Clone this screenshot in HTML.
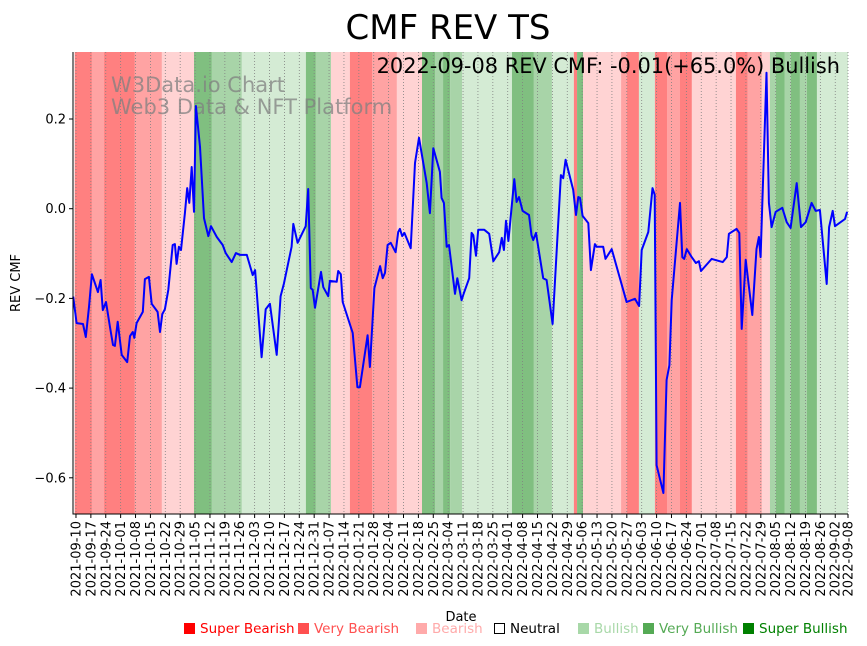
<!DOCTYPE html>
<html><head><meta charset="utf-8"><style>
html,body{margin:0;padding:0;background:#fff;}
svg{display:block;font-family:"DejaVu Sans","Liberation Sans",sans-serif;}
</style></head><body>
<svg id="chart" width="867" height="646" viewBox="0 0 867 646" xmlns="http://www.w3.org/2000/svg">
<g id="bands"></g>
<g id="grid"></g>
<text x="111" y="92" font-size="21" fill="#808080" fill-opacity="0.75">W3Data.io Chart</text>
<text x="111" y="114" font-size="21" fill="#808080" fill-opacity="0.75">Web3 Data &amp; NFT Platform</text>
<g id="series"></g>
<g id="axes"></g>
<text x="448" y="39" font-size="34" text-anchor="middle" fill="#000">CMF REV TS</text>
<text x="840" y="73" font-size="20.9" text-anchor="end" fill="#000">2022-09-08 REV CMF: -0.01(+65.0%) Bullish</text>
<text x="20" y="283" font-size="13" text-anchor="middle" transform="rotate(-90 20 283)">REV CMF</text>
<text x="461" y="621" font-size="13" text-anchor="middle">Date</text>
<g id="legend" font-size="13.5"></g>
</svg>
<script>
// ---- data ----
const days = [-1.3,0.3,3.3,4.6,6.1,7.5,10.3,11.6,12.6,14.1,16.0,17.4,18.3,19.6,21.5,24.1,25.4,26.7,27.4,28.5,31.4,32.4,34.3,35.6,38.4,39.5,40.6,41.8,43.4,45.5,46.5,47.3,48.4,49.4,51.2,52.3,53.3,54.4,55.5,56.4,58.3,60.2,62.2,63.5,66.2,69.0,70.4,73.2,75.2,77.1,80.3,83.1,84.2,87.3,89.2,91.2,94.4,96.2,97.8,101.4,102.2,104.2,108.0,109.2,110.4,111.3,112.4,115.2,116.3,118.6,119.4,122.6,123.3,124.5,125.4,130.1,132.3,133.5,137.1,138.2,140.3,143.0,144.2,145.3,146.5,148.0,150.3,151.5,152.3,153.4,154.4,157.4,159.4,161.3,164.9,166.4,168.0,171.1,171.9,173.0,174.3,175.4,178.2,179.3,181.3,182.4,184.9,186.0,186.8,188.1,189.1,192.0,194.3,196.2,199.0,200.2,201.2,202.2,203.3,206.1,207.2,208.3,210.0,213.0,214.2,215.0,216.3,219.7,221.3,224.1,228.0,229.1,230.2,233.8,235.1,236.2,237.0,238.2,240.9,242.1,244.0,244.8,247.9,249.0,251.9,258.9,262.8,264.8,266.0,269.1,271.1,272.1,273.0,276.2,277.7,279.0,280.1,284.0,285.1,286.0,287.2,289.5,291.5,292.9,293.9,298.9,304.1,306.0,307.0,310.6,311.9,313.0,314.9,318.0,320.0,321.1,321.9,324.7,325.8,327.1,329.0,332.1,334.2,336.0,338.9,340.9,343.1,345.9,347.8,349.8,353.0,354.1,355.8,356.9,361.6,362.6];
const cmfValues = [-0.196,-0.255,-0.257,-0.286,-0.219,-0.146,-0.186,-0.159,-0.226,-0.208,-0.264,-0.304,-0.306,-0.252,-0.326,-0.342,-0.284,-0.275,-0.288,-0.255,-0.230,-0.157,-0.152,-0.212,-0.230,-0.275,-0.235,-0.224,-0.181,-0.081,-0.079,-0.123,-0.085,-0.092,-0.010,0.046,0.013,0.093,-0.007,0.229,0.138,-0.021,-0.061,-0.039,-0.063,-0.081,-0.099,-0.119,-0.099,-0.103,-0.103,-0.148,-0.137,-0.331,-0.224,-0.212,-0.326,-0.195,-0.166,-0.085,-0.034,-0.076,-0.039,0.044,-0.177,-0.181,-0.221,-0.141,-0.175,-0.195,-0.161,-0.163,-0.139,-0.146,-0.208,-0.277,-0.398,-0.398,-0.282,-0.353,-0.177,-0.128,-0.155,-0.143,-0.081,-0.076,-0.097,-0.052,-0.045,-0.061,-0.054,-0.088,0.102,0.158,0.057,-0.010,0.135,0.082,0.024,0.013,-0.085,-0.081,-0.190,-0.155,-0.204,-0.188,-0.155,-0.054,-0.059,-0.105,-0.047,-0.047,-0.056,-0.117,-0.097,-0.065,-0.092,-0.027,-0.072,0.066,0.015,0.026,-0.005,-0.014,-0.059,-0.070,-0.054,-0.155,-0.159,-0.257,0.075,0.068,0.109,0.042,-0.014,0.026,0.024,-0.016,-0.032,-0.137,-0.079,-0.085,-0.085,-0.112,-0.090,-0.208,-0.201,-0.217,-0.092,-0.052,0.046,0.031,-0.572,-0.634,-0.382,-0.349,-0.204,0.013,-0.108,-0.112,-0.090,-0.108,-0.121,-0.117,-0.139,-0.112,-0.119,-0.108,-0.056,-0.045,-0.054,-0.268,-0.114,-0.237,-0.090,-0.063,-0.108,0.303,0.013,-0.041,-0.007,0.002,-0.030,-0.043,0.057,-0.041,-0.030,0.013,-0.005,-0.003,-0.168,-0.041,-0.005,-0.039,-0.023,-0.007];
const bandEnds = [7.5,13.2,27.7,40.4,55.5,63.9,78.0,108.1,112.8,119.9,128.8,139.2,150.9,162.7,168.8,172.6,175.9,181.5,205.0,215.3,223.8,234.1,235.6,238.4,256.3,259.1,264.7,272.2,277.9,284.0,289.6,310.3,315.9,322.5,326.3,329.1,333.3,336.2,340.4,343.7,348.4,363];
const bandLevels = [-3,-2,-3,-2,-1,3,2,1,3,2,-1,-3,-2,-1,3,2,3,2,1,3,2,1,-3,3,-1,-2,-3,1,-3,-2,-3,-1,-3,-2,-1,2,3,2,3,2,3,1];
const yTicks = [0.2,0.0,-0.2,-0.4,-0.6];
const tickLabels = ["2021-09-10","2021-09-17","2021-09-24","2021-10-01","2021-10-08","2021-10-15","2021-10-22","2021-10-29","2021-11-05","2021-11-12","2021-11-19","2021-11-26","2021-12-03","2021-12-10","2021-12-17","2021-12-24","2021-12-31","2022-01-07","2022-01-14","2022-01-21","2022-01-28","2022-02-04","2022-02-11","2022-02-18","2022-02-25","2022-03-04","2022-03-11","2022-03-18","2022-03-25","2022-04-01","2022-04-08","2022-04-15","2022-04-22","2022-04-29","2022-05-06","2022-05-13","2022-05-20","2022-05-27","2022-06-03","2022-06-10","2022-06-17","2022-06-24","2022-07-01","2022-07-08","2022-07-15","2022-07-22","2022-07-29","2022-08-05","2022-08-12","2022-08-19","2022-08-26","2022-09-02","2022-09-08"];
const tickDays = [0,7,14,21,28,35,42,49,56,63,70,77,84,91,98,105,112,119,126,133,140,147,154,161,168,175,182,189,196,203,210,217,224,231,238,245,252,259,266,273,280,287,294,301,308,315,322,329,336,343,350,357,363];
const legendNames = ["Super Bearish","Very Bearish","Bearish","Neutral","Bullish","Very Bullish","Super Bullish"];

// ---- scales ----
const NS="http://www.w3.org/2000/svg";
const X0=73,X1=848,Y0=52,Y1=514;
const D0=-1.4,D1=363;
const xs=d=>X0+(d-D0)*(X1-X0)/(D1-D0);
const ys=v=>208.7-v*448.5;
const bandColor={"-3":"#ff8080","-2":"#ffa3a3","-1":"#ffd3d3","1":"#d4ebd4","2":"#a8d4a8","3":"#80bf80"};
function mk(tag,attrs,parent){const e=document.createElementNS(NS,tag);for(const k in attrs)e.setAttribute(k,attrs[k]);parent.appendChild(e);return e;}

const gB=document.getElementById('bands');
let start=D0+0.8;
bandEnds.forEach((end,i)=>{
  const r=mk('rect',{x:xs(start),y:Y0,width:Math.max(0,xs(end)-xs(start)),height:Y1-Y0,fill:bandColor[bandLevels[i]]},gB);
  
  
  start=end;
});

const gG=document.getElementById('grid');
tickDays.forEach(d=>{
  const l=mk('line',{x1:xs(d),x2:xs(d),y1:Y0,y2:Y1,stroke:'#808080','stroke-width':0.8,'stroke-dasharray':'1,2'},gG);
  
  
});

const gS=document.getElementById('series');
const pts=days.map((d,i)=>xs(d).toFixed(1)+','+ys(cmfValues[i]).toFixed(1)).join(' ');
const pl=mk('polyline',{points:pts,fill:'none',stroke:'#0000ff','stroke-width':2,'stroke-linejoin':'round'},gS);



const gA=document.getElementById('axes');
mk('line',{x1:X0,x2:X0,y1:Y0,y2:Y1+0.5,stroke:'#000','stroke-width':1},gA);
mk('line',{x1:X0-0.5,x2:X1,y1:Y1,y2:Y1,stroke:'#000','stroke-width':1},gA);
yTicks.forEach(v=>{
  mk('line',{x1:X0-4,x2:X0,y1:ys(v),y2:ys(v),stroke:'#000'},gA);
  const t=mk('text',{x:X0-7,y:ys(v)+4.5,'text-anchor':'end','font-size':13},gA);
  t.textContent=v.toFixed(1).replace('-','\u2212');
  
  
});
tickDays.forEach((d,i)=>{
  const x=xs(d);
  mk('line',{x1:x,x2:x,y1:Y1,y2:Y1+4,stroke:'#000'},gA);
  const t=mk('text',{x:x+4.5,y:Y1+7,'text-anchor':'end','font-size':13,transform:`rotate(-90 ${x+4.5} ${Y1+7})`},gA);
  t.textContent=tickLabels[i];
  
  
});

const gL=document.getElementById('legend');
const legColors=["#ff0000","#ff5050","#ffaaaa","#000","#a8d8a8","#55aa55","#008000"];
const sqX=[184,298,416,494,578,643,743];
legendNames.forEach((n,i)=>{
  const g=mk('g',{},gL);
  
  
  if(i===3) mk('rect',{x:sqX[i]+0.5,y:623.5,width:10,height:10,fill:'#fff',stroke:'#000'},g);
  else mk('rect',{x:sqX[i],y:623,width:11,height:11,fill:legColors[i]},g);
  const t=mk('text',{x:sqX[i]+16,y:633,fill:legColors[i]},g);
  t.textContent=n;
});
</script>
</body></html>
